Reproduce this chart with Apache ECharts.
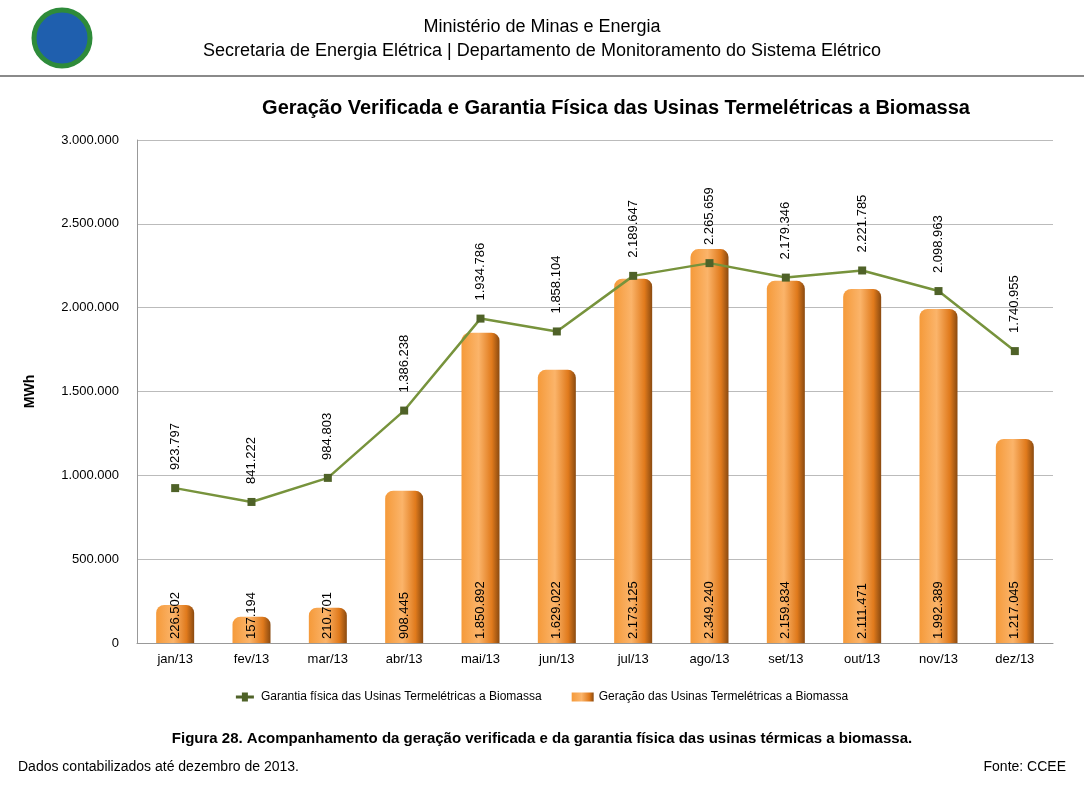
<!DOCTYPE html>
<html><head><meta charset="utf-8">
<script src="https://cdn.jsdelivr.net/npm/echarts@6/dist/echarts.min.js"></script>
<style>html,body{margin:0;padding:0;background:#fff}#c{width:1084px;height:790px}</style>
</head><body><div id="c"></div>
<script>
const categories=['jan/13','fev/13','mar/13','abr/13','mai/13','jun/13','jul/13','ago/13','set/13','out/13','nov/13','dez/13'];
const geracao=[226502,157194,210701,908445,1850892,1629022,2173125,2349240,2159834,2111471,1992389,1217045];
const garantia=[923797,841222,984803,1386238,1934786,1858104,2189647,2265659,2179346,2221785,2098963,1740955];
const yTicks=[0,500000,1000000,1500000,2000000,2500000,3000000];
const fmt=v=>v===0?'0':v.toLocaleString('de-DE');
const chart=echarts.init(document.getElementById('c'));
const F='Liberation Sans, Arial, sans-serif';
chart.setOption({
  animation:false,
  textStyle:{fontFamily:F},
  graphic:[
    {type:'text',left:'center',top:18,style:{text:'Ministério de Minas e Energia',font:'18px '+F,fill:'#000'}},
    {type:'text',left:'center',top:42,style:{text:'Secretaria de Energia Elétrica | Departamento de Monitoramento do Sistema Elétrico',font:'18px '+F,fill:'#000'}},
    {type:'line',shape:{x1:0,y1:76,x2:1084,y2:76},style:{stroke:'#8a8a8a',lineWidth:2}},
    {type:'circle',shape:{cx:62,cy:38,r:28},style:{fill:'#1f5fae',stroke:'#2e8b3a',lineWidth:5}},
    {type:'text',x:616,y:108,style:{text:'Geração Verificada e Garantia Física das Usinas Termelétricas a Biomassa',font:'bold 20px '+F,fill:'#000',align:'center',verticalAlign:'middle'}},
    {type:'text',left:'center',top:731,style:{text:'Figura 28. Acompanhamento da geração verificada e da garantia física das usinas térmicas a biomassa.',font:'bold 15px '+F,fill:'#000'}},
    {type:'text',left:18,top:760,style:{text:'Dados contabilizados até dezembro de 2013.',font:'14px '+F,fill:'#000'}},
    {type:'text',right:18,top:760,style:{text:'Fonte: CCEE',font:'14px '+F,fill:'#000'}}
  ],
  legend:{top:686,left:'center',itemGap:30,textStyle:{fontSize:12,color:'#000'},
    data:[{name:'Garantia física das Usinas Termelétricas a Biomassa',icon:'path://M0,5L4,5L4,3L8,3L8,5L12,5L12,7L8,7L8,9L4,9L4,7L0,7Z'},
          {name:'Geração das Usinas Termelétricas a Biomassa',icon:'rect'}],
    itemWidth:22,itemHeight:9},
  grid:{left:137,right:31,top:140,bottom:147},
  xAxis:{type:'category',data:categories,axisTick:{show:false},axisLine:{lineStyle:{color:'#999'}},
    axisLabel:{color:'#000',fontSize:13,margin:10}},
  yAxis:{type:'value',min:0,max:3000000,interval:500000,name:'MWh',nameLocation:'middle',nameGap:100,
    nameTextStyle:{fontWeight:'bold',fontSize:14,color:'#000'},
    axisLine:{show:true,lineStyle:{color:'#999'}},
    axisLabel:{color:'#000',fontSize:13,margin:18,formatter:fmt},splitLine:{lineStyle:{color:'#bbb'}}},
  series:[
    {name:'Geração das Usinas Termelétricas a Biomassa',type:'bar',data:geracao,barWidth:38,z:2,
      itemStyle:{borderRadius:[8,8,0,0],color:new echarts.graphic.LinearGradient(0,0,1,0,[{offset:0,color:'#f59a3a'},{offset:0.45,color:'#fbb46a'},{offset:0.8,color:'#e07a1c'},{offset:1,color:'#8a4a10'}])},
      label:{show:true,position:'insideBottom',rotate:90,align:'left',verticalAlign:'middle',distance:4,fontSize:13,color:'#000',formatter:p=>fmt(p.value)}},
    {name:'Garantia física das Usinas Termelétricas a Biomassa',type:'line',data:garantia,z:3,
      symbol:'rect',symbolSize:8,lineStyle:{color:'#77933c',width:2.5},itemStyle:{color:'#4f6228'},
      label:{show:true,position:'top',rotate:90,align:'left',verticalAlign:'middle',distance:14,fontSize:13,color:'#000',formatter:p=>fmt(p.value)}}
  ]
});
</script></body></html>
